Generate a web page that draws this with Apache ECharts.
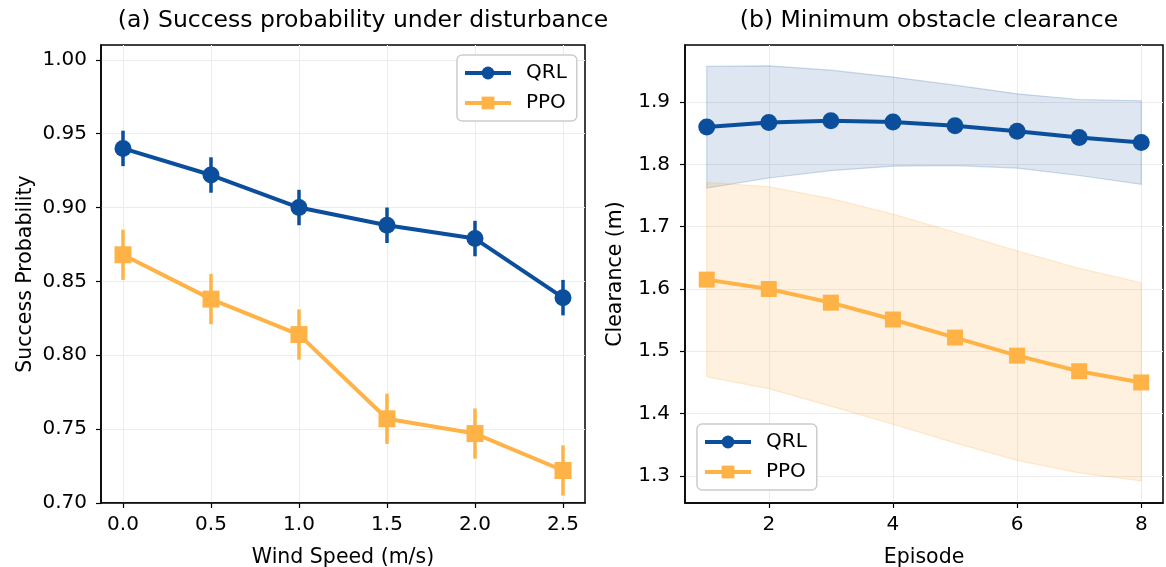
<!DOCTYPE html>
<html>
<head>
<meta charset="utf-8">
<script src="https://cdn.jsdelivr.net/npm/echarts@6/dist/echarts.min.js"></script>
<style>
  html, body { margin: 0; padding: 0; background: #fff; }
  #chart { width: 1166px; height: 567px; }
</style>
</head>
<body>
<div id="chart"></div>
<script>
// panel (a): success probability vs wind speed
var windSpeed = [0.0, 0.5, 1.0, 1.5, 2.0, 2.5]
var qrlSuccess = [0.940, 0.922, 0.900, 0.888, 0.879, 0.839]
var qrlSuccessErr = [0.012, 0.012, 0.012, 0.012, 0.012, 0.012]
var ppoSuccess = [0.868, 0.838, 0.814, 0.757, 0.747, 0.722]
var ppoSuccessErr = [0.017, 0.017, 0.017, 0.017, 0.017, 0.017]
var windTicks = [0.0, 0.5, 1.0, 1.5, 2.0, 2.5]
var successTicks = [0.70, 0.75, 0.80, 0.85, 0.90, 0.95, 1.00]

// panel (b): minimum clearance per episode
var episodes = [1, 2, 3, 4, 5, 6, 7, 8]
var qrlClear = [1.860, 1.867, 1.870, 1.868, 1.862, 1.853, 1.843, 1.835]
var qrlClearHi = [1.957, 1.958, 1.951, 1.940, 1.927, 1.913, 1.904, 1.902]
var qrlClearLo = [1.762, 1.778, 1.790, 1.797, 1.798, 1.794, 1.782, 1.768]
var ppoClear = [1.615, 1.600, 1.578, 1.551, 1.522, 1.493, 1.468, 1.450]
var ppoClearHi = [1.771, 1.764, 1.745, 1.720, 1.691, 1.661, 1.633, 1.610]
var ppoClearLo = [1.459, 1.440, 1.412, 1.383, 1.353, 1.325, 1.305, 1.292]
var episodeTicks = [2, 4, 6, 8]
var clearTicks = [1.3, 1.4, 1.5, 1.6, 1.7, 1.8, 1.9]

var BLUE = '#0b4f9c'
var ORANGE = '#ffb347'
var FONT = 'DejaVu Sans'

function pairs(xs, ys) {
    return xs.map(function (x, i) { return [x, ys[i]] })
}
function triples(xs, ys, es) {
    return xs.map(function (x, i) { return [x, ys[i], es[i]] })
}

// vertical error bar, no caps
function errorBar(color, gridIdx) {
    return {
        type: 'custom',
        name: 'err',
        xAxisIndex: gridIdx,
        yAxisIndex: gridIdx,
        z: 1,
        renderItem: function (params, api) {
            var x = api.value(0), y = api.value(1), e = api.value(2)
            var a = api.coord([x, y - e])
            var b = api.coord([x, y + e])
            return {
                type: 'line',
                shape: { x1: a[0], y1: a[1], x2: b[0], y2: b[1] },
                style: { stroke: color, lineWidth: 3.5 }
            }
        },
        encode: { x: 0, y: 1 }
    }
}

// shaded band between lo and hi
function band(xs, lo, hi, fill, edge, gridIdx) {
    return {
        type: 'custom',
        name: 'band',
        xAxisIndex: gridIdx,
        yAxisIndex: gridIdx,
        z: 0,
        silent: true,
        renderItem: function (params, api) {
            if (params.dataIndex !== 0) return
            var pts = []
            xs.forEach(function (x, i) { pts.push(api.coord([x, hi[i]])) })
            for (var i = xs.length - 1; i >= 0; i--) pts.push(api.coord([xs[i], lo[i]]))
            return {
                type: 'polygon',
                shape: { points: pts },
                style: { fill: fill, stroke: edge, lineWidth: 1.2 }
            }
        },
        encode: { x: 0, y: 1 },
        data: triples(xs, lo, hi)
    }
}

function lineSeries(name, data, color, symbol, size, gridIdx) {
    return {
        type: 'line',
        name: name,
        xAxisIndex: gridIdx,
        yAxisIndex: gridIdx,
        data: data,
        z: 2,
        symbol: symbol,
        symbolSize: size,
        showAllSymbol: true,
        itemStyle: { color: color, opacity: 1 },
        lineStyle: { color: color, width: 4 },
        emphasis: { disabled: true },
        animation: false
    }
}

function valueAxis(gridIdx, min, max, ticks, digits, name, gap, labelMargin) {
    return {
        type: 'value',
        gridIndex: gridIdx,
        min: min,
        max: max,
        name: name,
        nameLocation: 'middle',
        nameGap: gap,
        nameTextStyle: { fontFamily: FONT, fontSize: 20.5, color: '#000' },
        axisLine: { show: true, onZero: false, lineStyle: { color: '#000', width: 1.5 } },
        axisTick: { show: true, inside: false, length: 5, lineStyle: { color: '#000', width: 1.2 }, customValues: ticks },
        axisLabel: {
            fontFamily: FONT, fontSize: 20, color: '#000', margin: labelMargin,
            customValues: ticks,
            formatter: function (v) { return digits >= 0 ? v.toFixed(digits) : String(v) }
        },
        splitLine: { show: true, lineStyle: { color: '#ececec', width: 1 } }
    }
}

var chart = echarts.init(document.getElementById('chart'), null, { renderer: 'canvas' })

var legendBase = {
    data: ['QRL', 'PPO'],
    orient: 'vertical',
    backgroundColor: '#fff',
    borderColor: '#cccccc',
    borderWidth: 1.5,
    borderRadius: 5,
    padding: [8, 10, 8, 6],
    itemGap: 10,
    itemWidth: 46,
    itemHeight: 16,
    lineStyle: { width: 4 },
    textStyle: { fontFamily: FONT, fontSize: 20, color: '#000', padding: [0, 0, 0, 10] }
}

var option = {
    backgroundColor: '#fff',
    animation: false,
    title: [
        { text: '(a) Success probability under disturbance', left: 358, top: 4, textAlign: 'center',
          textStyle: { fontFamily: FONT, fontSize: 23.5, fontWeight: 'normal', color: '#000' } },
        { text: '(b) Minimum obstacle clearance', left: 924, top: 4, textAlign: 'center',
          textStyle: { fontFamily: FONT, fontSize: 23.5, fontWeight: 'normal', color: '#000' } }
    ],
    legend: [
        Object.assign({}, legendBase, { left: 457, top: 55 }),
        Object.assign({}, legendBase, { left: 697, top: 424 })
    ],
    grid: [
        { left: 101, top: 45, width: 484, height: 458, outerBoundsMode: 'none', containLabel: false,
          show: true, borderColor: '#000', borderWidth: 1.5, backgroundColor: 'transparent' },
        { left: 685, top: 45, width: 478, height: 458, outerBoundsMode: 'none', containLabel: false,
          show: true, borderColor: '#000', borderWidth: 1.5, backgroundColor: 'transparent' }
    ],
    xAxis: [
        valueAxis(0, -0.125, 2.625, windTicks, 1, 'Wind Speed (m/s)', 44, 12),
        valueAxis(1, 0.65, 8.35, episodeTicks, -1, 'Episode', 44, 12)
    ],
    yAxis: [
        valueAxis(0, 0.70, 1.01, successTicks, 2, 'Success Probability', 65, 14),
        valueAxis(1, 1.2566, 1.9914, clearTicks, 1, 'Clearance (m)', 59, 15)
    ],
    series: [
        Object.assign(errorBar(BLUE, 0), { data: triples(windSpeed, qrlSuccess, qrlSuccessErr) }),
        lineSeries('QRL', pairs(windSpeed, qrlSuccess), BLUE, 'circle', 17, 0),
        Object.assign(errorBar(ORANGE, 0), { data: triples(windSpeed, ppoSuccess, ppoSuccessErr) }),
        lineSeries('PPO', pairs(windSpeed, ppoSuccess), ORANGE, 'rect', 17, 0),

        band(episodes, qrlClearLo, qrlClearHi, 'rgba(11,79,156,0.14)', 'rgba(11,79,156,0.2)', 1),
        band(episodes, ppoClearLo, ppoClearHi, 'rgba(255,170,60,0.16)', 'rgba(255,170,60,0.22)', 1),
        lineSeries('QRL', pairs(episodes, qrlClear), BLUE, 'circle', 17, 1),
        lineSeries('PPO', pairs(episodes, ppoClear), ORANGE, 'rect', 16, 1)
    ]
}

chart.setOption(option)
</script>
</body>
</html>
